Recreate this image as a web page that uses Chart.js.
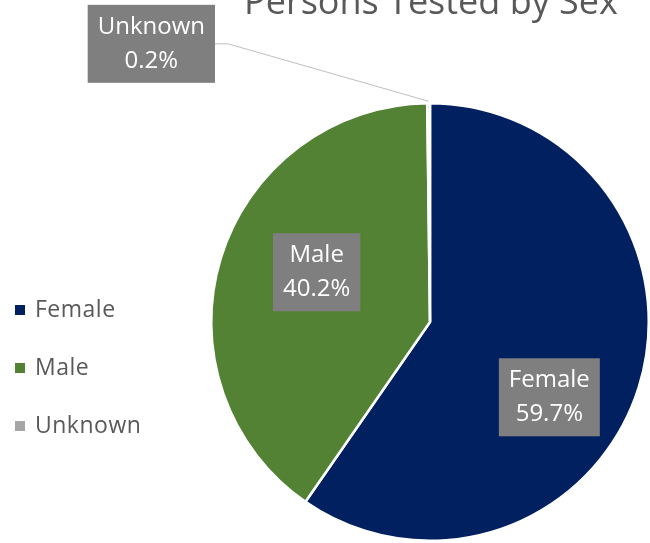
<!DOCTYPE html>
<html>
<head>
<meta charset="utf-8">
<script src="https://cdn.jsdelivr.net/npm/chart.js@4"></script>
<style>
  html, body { margin: 0; padding: 0; background: #fff; }
  #wrap { width: 650px; height: 543px; position: relative; }
</style>
</head>
<body>
<div id="wrap"><canvas id="sexChart"></canvas></div>
<script>
// data
const categories = ['Female', 'Male', 'Unknown'];
const percentages = [59.7, 40.2, 0.2];
const sliceColors = ['#002060', '#548235', '#A5A5A5'];
const chartTitle = 'Persons Tested by Sex';

const FONT = '"Open Sans", "Liberation Sans", sans-serif';
const TEXT_GREY = '#595959';

// where each data label sits, relative to its slice (angle shift in rad, distance as fraction of radius)
const labelPlacement = [
    { shift: 0.26, dist: 0.645, outside: false },
    { shift: 0.117, dist: 0.566, outside: false },
    { shift: -0.78, dist: 1.8, outside: true }
];

const titlePlugin = {
    id: 'topTitle',
    afterDraw(chart) {
        const ctx = chart.ctx;
        const area = chart.chartArea;
        ctx.save();
        ctx.font = '36px ' + FONT;
        ctx.fillStyle = TEXT_GREY;
        ctx.textAlign = 'center';
        ctx.textBaseline = 'alphabetic';
        ctx.fillText(chartTitle, (area.left + area.right) / 2 + 1, 14);
        ctx.restore();
    }
};

const legendPlugin = {
    id: 'sideLegend',
    afterDraw(chart) {
        const ctx = chart.ctx;
        ctx.save();
        ctx.font = '23px ' + FONT;
        ctx.letterSpacing = '0.5px';
        ctx.textBaseline = 'middle';
        ctx.textAlign = 'left';
        categories.forEach((name, i) => {
            const cy = 310 + i * 58;
            ctx.fillStyle = sliceColors[i];
            ctx.fillRect(15, cy - 5, 10, 10);
            ctx.fillStyle = TEXT_GREY;
            ctx.fillText(name, 35, cy);
        });
        ctx.restore();
    }
};

const labelPlugin = {
    id: 'boxLabels',
    afterDatasetsDraw(chart) {
        const ctx = chart.ctx;
        const meta = chart.getDatasetMeta(0);
        ctx.save();
        ctx.font = '24px ' + FONT;
        meta.data.forEach((arc, i) => {
            const p = arc.getProps(['x', 'y', 'startAngle', 'endAngle', 'outerRadius'], true);
            const place = labelPlacement[i];
            const mid = (p.startAngle + p.endAngle) / 2;
            const ang = mid + place.shift;
            const bx = p.x + Math.cos(ang) * p.outerRadius * place.dist;
            const by = p.y + Math.sin(ang) * p.outerRadius * place.dist;

            const line1 = categories[i];
            const line2 = percentages[i].toFixed(1) + '%';
            const w = Math.max(ctx.measureText(line1).width, ctx.measureText(line2).width) + 20;
            const h = 78;

            if (place.outside) {
                // leader line from box to slice edge
                const ex = p.x + Math.cos(mid) * (p.outerRadius + 2);
                const ey = p.y + Math.sin(mid) * (p.outerRadius + 2);
                ctx.strokeStyle = '#BFBFBF';
                ctx.lineWidth = 1;
                ctx.beginPath();
                ctx.moveTo(bx + w / 2, by);
                ctx.lineTo(bx + w / 2 + 13, by);
                ctx.lineTo(ex, ey);
                ctx.stroke();
            }

            ctx.fillStyle = '#7F7F7F';
            ctx.fillRect(bx - w / 2, by - h / 2, w, h);
            ctx.fillStyle = '#FFFFFF';
            ctx.textAlign = 'center';
            ctx.textBaseline = 'middle';
            ctx.fillText(line1, bx, by - 17);
            ctx.fillText(line2, bx, by + 17);
        });
        ctx.restore();
    }
};

new Chart(document.getElementById('sexChart'), {
    type: 'pie',
    data: {
        labels: categories,
        datasets: [{
            data: percentages,
            backgroundColor: sliceColors,
            borderColor: '#ffffff',
            borderWidth: 2.5
        }]
    },
    options: {
        responsive: true,
        maintainAspectRatio: false,
        animation: false,
        layout: {
            padding: { top: 102, bottom: 1, left: 210, right: 0 }
        },
        plugins: {
            legend: { display: false },
            title: { display: false },
            tooltip: { enabled: false }
        }
    },
    plugins: [labelPlugin, titlePlugin, legendPlugin]
});
</script>
</body>
</html>
